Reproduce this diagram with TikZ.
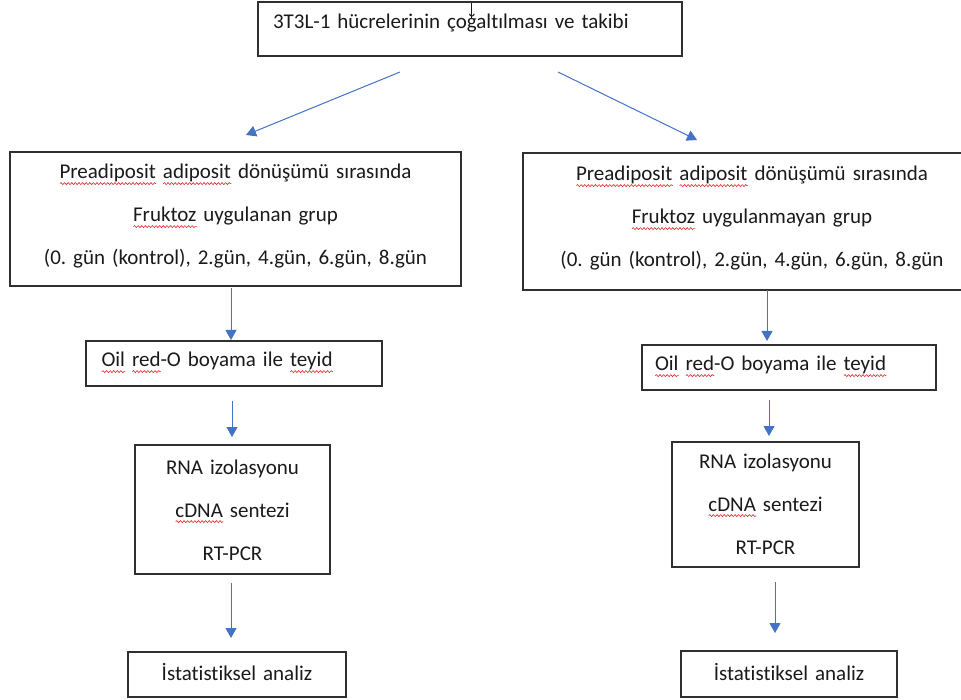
\documentclass[tikz,border=0pt]{standalone}
\usepackage{fontspec}
\setmainfont{Carlito}[Ligatures=NoCommon]
\frenchspacing
\usetikzlibrary{arrows.meta,decorations.pathmorphing}
\definecolor{arrowblue}{HTML}{4472C4}
\definecolor{boxgray}{HTML}{303030}
\definecolor{squigred}{HTML}{E02828}
\definecolor{textblack}{HTML}{1A1A1A}
\newsavebox\sqbox
\newlength\sqlen
\newcommand\sq[1]{\leavevmode\sbox\sqbox{#1}\setlength\sqlen{\wd\sqbox}\rlap{\tikz[baseline=0pt]\draw[squigred,line width=0.6pt,decorate,decoration={snake,amplitude=1pt,segment length=3.6pt}] (0pt,-4.6pt) -- (\sqlen,-4.6pt);}\usebox\sqbox}
\begin{document}
\begin{tikzpicture}[x=1pt,y=-1pt,
  box/.style={draw=boxgray,line width=1.2pt,inner sep=0pt,outer sep=0pt,
    text=textblack,font=\fontsize{21}{43}\selectfont\frenchspacing,anchor=north},
  arr/.style={draw=arrowblue,line width=1pt,-{Triangle[length=10pt,width=11pt]}}]
\useasboundingbox (0,0) rectangle (961,700);

% boxes
\node[box,text width=394pt,inner xsep=15pt,align=left,text height=27pt,text depth=27pt] (top) at (470,2)
  {3T3L-1 hücrelerinin çoğaltılması ve takibi};

\node[box,text width=451pt,align=center,text height=27pt,text depth=107pt] (L1) at (235.5,152)
  {\sq{Preadiposit} \sq{adiposit} dönüşümü sırasında\\\sq{Fruktoz} uygulanan grup\\(0. gün (kontrol), 2.gün, 4.gün, 6.gün, 8.gün};
\node[box,text width=458pt,align=center,text height=28pt,text depth=109pt] (R1) at (752,153)
  {\sq{Preadiposit} \sq{adiposit} dönüşümü sırasında\\\sq{Fruktoz} uygulanmayan grup\\(0. gün (kontrol), 2.gün, 4.gün, 6.gün, 8.gün};

\node[box,text width=265pt,inner xsep=15.5pt,align=left,text height=26pt,text depth=19pt] (LO) at (234,341)
  {\sq{Oil} \sq{red}-O boyama ile \sq{teyid}};
\node[box,text width=268pt,inner xsep=13pt,align=left,text height=26pt,text depth=19pt] (RO) at (789,345)
  {\sq{Oil} \sq{red}-O boyama ile \sq{teyid}};

\node[box,text width=195pt,align=center,text height=29pt,text depth=100pt] (LR) at (232.5,445)
  {RNA izolasyonu\\\sq{cDNA} sentezi\\RT-PCR};
\node[box,text width=187pt,align=center,text height=26pt,text depth=99pt] (RR) at (765.5,442)
  {RNA izolasyonu\\\sq{cDNA} sentezi\\RT-PCR};

\node[box,text width=218pt,align=center,text height=28pt,text depth=17pt] (LS) at (237,652)
  {İstatistiksel analiz};
\node[box,text width=216pt,align=center,text height=29pt,text depth=17pt] (RS) at (789,651)
  {İstatistiksel analiz};

% cursor mark
\coordinate (cur1) at (471,3);
\coordinate (cur2) at (471,18);
\draw[line width=0.8pt,textblack] (cur1) -- (cur2);

% arrow end points
\coordinate (a1s) at (400,72);  \coordinate (a1e) at (246,135);
\coordinate (a2s) at (558,72);  \coordinate (a2e) at (697,140);
\coordinate (a3s) at (231,288); \coordinate (a3e) at (231,340);
\coordinate (a4s) at (767,290); \coordinate (a4e) at (767,341);
\coordinate (a5s) at (232,401); \coordinate (a5e) at (232,437);
\coordinate (a6s) at (769,400); \coordinate (a6e) at (769,436);
\coordinate (a7s) at (231,583); \coordinate (a7e) at (231,638);
\coordinate (a8s) at (775,582); \coordinate (a8e) at (775,633);

\draw[arr] (a1s) -- (a1e);
\draw[arr] (a2s) -- (a2e);
\draw[arr] (a3s) -- (a3e);
\draw[arr] (a4s) -- (a4e);
\draw[arr] (a5s) -- (a5e);
\draw[arr] (a6s) -- (a6e);
\draw[arr] (a7s) -- (a7e);
\draw[arr] (a8s) -- (a8e);
\end{tikzpicture}
\end{document}
